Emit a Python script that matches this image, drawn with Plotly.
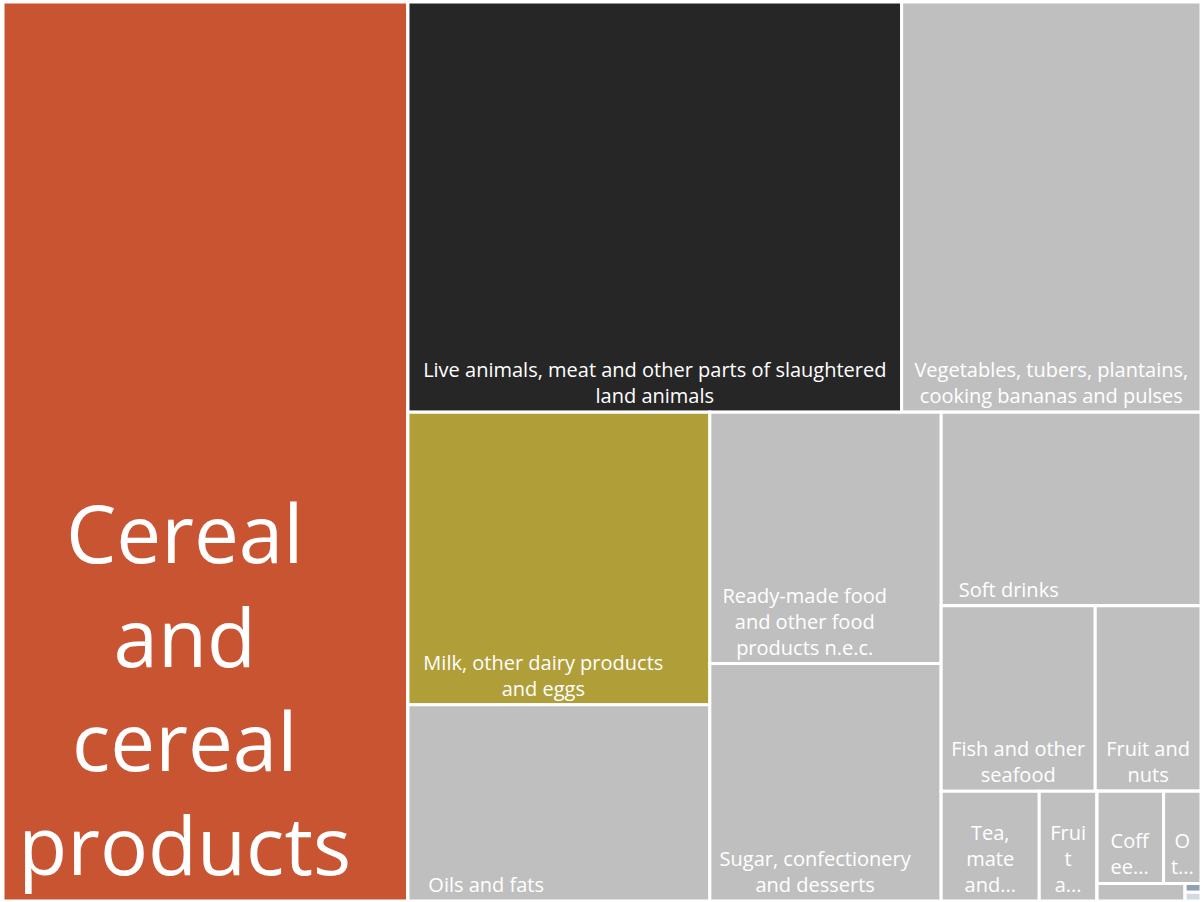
import plotly.graph_objects as go

# ---- data (share of food & non-alcoholic beverage spending, %) ----
node_ids = [
    "cereal", "rest",
    "top", "live", "veg",
    "bottom",
    "colA", "milk", "oils",
    "colB", "ready", "sugar",
    "colC", "soft",
    "rowD", "fish", "fruitnuts",
    "rowE", "tea", "juice",
    "colF", "rowG", "coffee", "other",
    "rowH", "cocoa", "colI", "water", "services",
]
node_labels = [
    "Cereal and cereal products", "",
    "", "Live animals, meat and other parts of slaughtered land animals",
    "Vegetables, tubers, plantains, cooking bananas and pulses",
    "",
    "", "Milk, other dairy products and eggs", "Oils and fats",
    "", "Ready-made food and other food products n.e.c.", "Sugar, confectionery and desserts",
    "", "Soft drinks",
    "", "Fish and other seafood", "Fruit and nuts",
    "", "Tea, mate and other plant products for infusion", "Fruit and vegetable juices",
    "", "", "Coffee and coffee substitutes", "Other non-alcoholic beverages",
    "", "Cocoa drinks", "", "Water", "Services for processing primary goods",
]
node_parents = [
    "", "",
    "rest", "top", "top",
    "rest",
    "bottom", "colA", "colA",
    "bottom", "colB", "colB",
    "bottom", "colC",
    "colC", "rowD", "rowD",
    "colC", "rowE", "rowE",
    "rowE", "colF", "rowG", "rowG",
    "colF", "rowH", "rowH", "colI", "colI",
]
node_values = [
    33.8, 0,
    0, 18.8, 11.4,
    0,
    0, 8.2, 5.5,
    0, 5.4, 5.1,
    0, 4.67,
    0, 2.65, 1.82,
    0, 1.0, 0.59,
    0, 0, 0.57, 0.32,
    0, 0.144, 0, 0.013, 0.013,
]
# text shown inside each tile (as displayed in the chart)
node_text = [
    "Cereal<br>and<br>cereal<br>products", "",
    "", "Live animals, meat and other parts of slaughtered<br>land animals",
    "Vegetables, tubers, plantains,<br>cooking bananas and pulses",
    "",
    "", "Milk, other dairy products<br>and eggs", "Oils and fats",
    "", "Ready-made food<br>and other food<br>products n.e.c.", "Sugar, confectionery<br>and desserts",
    "", "Soft drinks",
    "", "Fish and other<br>seafood", "Fruit and<br>nuts",
    "", "Tea,<br>mate<br>and...", "Frui<br>t<br>a...",
    "", "", "Coff<br>ee...", "O<br>t...",
    "", "", "", "", "",
]

# ---- styles ----
GRAY = "#BFBFBF"
tile_colors = [
    "#C85432", "#FFFFFF",
    "#FFFFFF", "#262626", GRAY,
    "#FFFFFF",
    "#FFFFFF", "#B09E39", GRAY,
    "#FFFFFF", GRAY, GRAY,
    "#FFFFFF", GRAY,
    "#FFFFFF", GRAY, GRAY,
    "#FFFFFF", GRAY, GRAY,
    "#FFFFFF", "#FFFFFF", GRAY, GRAY,
    "#FFFFFF", GRAY, "#FFFFFF", "#90A1B3", "#D1D9E1",
]
font_sizes = [80] + [20] * (len(node_ids) - 1)
# invisible trailing padding (non-breaking spaces) that nudges a label towards
# the tile's left side, as in the reference where label blocks are left-aligned
label_nudge = {"cereal": 2, "oils": 28, "soft": 24, "milk": 6, "ready": 8, "sugar": 4}

NBSP = "\u00a0"
shown_text = []
for nid, txt in zip(node_ids, node_text):
    n = label_nudge.get(nid, 0)
    if n:
        txt = "<br>".join(line + NBSP * n for line in txt.split("<br>"))
    shown_text.append(txt)

fig = go.Figure(go.Treemap(
    ids=node_ids,
    labels=node_labels,
    parents=node_parents,
    values=node_values,
    text=shown_text,
    texttemplate="%{text}",
    branchvalues="remainder",
    sort=False,
    textposition="bottom center",
    textfont=dict(family="Open Sans", size=font_sizes, color="white"),
    marker=dict(
        colors=tile_colors,
        line=dict(color="white", width=3),
        pad=dict(t=0, l=0, r=0, b=0),
        depthfade=False,
    ),
    tiling=dict(packing="slice-dice", pad=0),
    pathbar=dict(visible=False),
))

fig.update_layout(
    width=1203, height=902,
    margin=dict(l=3, r=2, t=2, b=1),
    paper_bgcolor="white",
    showlegend=False,
)

fig.write_html(
    "out.html",
    config={"displayModeBar": False},
    post_script="document.body.style.margin='0';document.body.style.overflow='hidden';",
)
